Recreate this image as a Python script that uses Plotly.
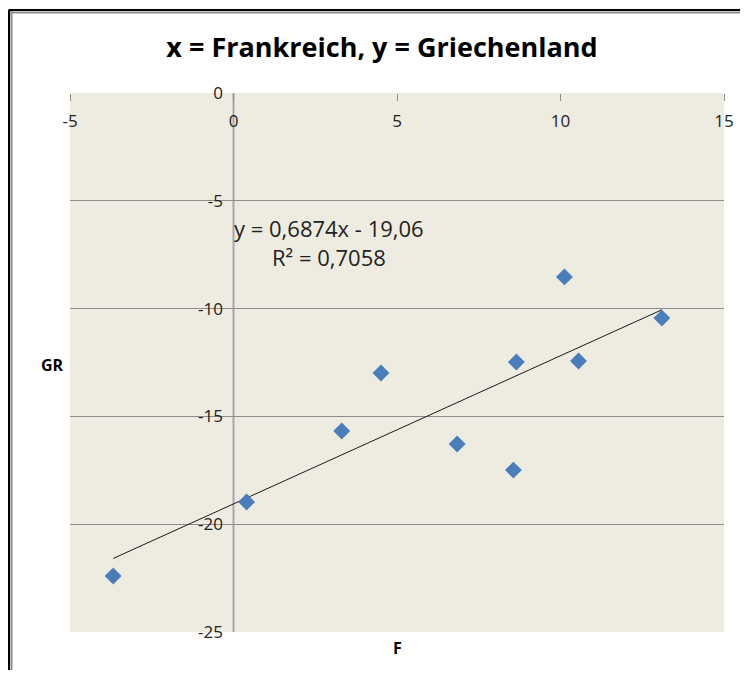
import plotly.graph_objects as go

# Frankreich (x) vs Griechenland (y)
x_frankreich = [-3.68, 0.40, 3.31, 4.51, 6.84, 8.56, 8.65, 10.12, 10.55, 13.10]
y_griechenland = [-22.40, -18.97, -15.68, -12.99, -16.28, -17.49, -12.48, -8.53, -12.43, -10.44]

# linear trendline as reported in the chart
trend_slope = 0.6874
trend_intercept = -19.06
trend_r2 = 0.7058

x_ticks = [-5, 0, 5, 10, 15]
y_ticks = [0, -5, -10, -15, -20, -25]

FONT = "Open Sans"
OFF = 8  # page body margin
W, H = 748 - 2 * OFF, 678 - 2 * OFF
# plot area in screen pixels: x 70..724, y 93..632
L, T = 70 - OFF, 93 - OFF
R, B = W - (724 - OFF), H - (632 - OFF)
PW, PH = W - L - R, H - T - B


def px_x(p):
    return (p - OFF - L) / PW


def px_y(p):
    return (H - B - (p - OFF)) / PH


trend_x = [min(x_frankreich), max(x_frankreich)]
trend_y = [trend_slope * v + trend_intercept for v in trend_x]

fig = go.Figure()

fig.add_trace(go.Scatter(
    x=trend_x, y=trend_y, mode='lines',
    line=dict(color='#1a1a1a', width=1),
    hoverinfo='skip', showlegend=False
))

fig.add_trace(go.Scatter(
    x=x_frankreich, y=y_griechenland, mode='markers',
    marker=dict(symbol='diamond', size=13, color='#4A7EBB', line=dict(width=0)),
    showlegend=False
))

eq_text = f"y = {str(trend_slope).replace('.', ',')}x - {str(abs(trend_intercept)).replace('.', ',')}"
r2_text = f"R² = {str(trend_r2).replace('.', ',')}"


def label(text, x, y, size, color='#222222'):
    return dict(text=text, x=px_x(x), y=px_y(y), xref='paper', yref='paper',
                xanchor='center', yanchor='middle', showarrow=False,
                font=dict(size=size, color=color))


fig.update_layout(
    width=W, height=H,
    margin=dict(l=L, r=R, t=T, b=B, autoexpand=False),
    paper_bgcolor='white',
    plot_bgcolor='#EEECE1',
    font=dict(family=FONT, color='#222222'),
    title=dict(text='<b>x = Frankreich, y = Griechenland</b>', x=(382 - OFF) / W, xanchor='center',
               y=1 - (48 - OFF) / H, yanchor='middle', font=dict(size=27, color='black')),
    xaxis=dict(
        range=[-5, 15], tickvals=x_ticks, ticktext=[str(v) for v in x_ticks],
        anchor='free', position=1, side='bottom', automargin=False,
        ticks='outside', ticklen=7, tickcolor='#8C8C8C', ticklabelstandoff=6,
        tickfont=dict(size=17, color='#222222'),
        showgrid=False, zeroline=False, showline=False
    ),
    yaxis=dict(
        range=[-25, 0], tickvals=y_ticks, ticktext=[str(v) for v in y_ticks],
        anchor='free', position=px_x(233), automargin=False,
        showgrid=True, gridcolor='#8C8C8C', gridwidth=1,
        showline=False, zeroline=False, ticks='', ticklabelstandoff=10,
        tickfont=dict(size=17, color='#222222')
    ),
    shapes=[
        # y axis line at x = 0
        dict(type='line', xref='x', yref='paper', x0=0, x1=0, y0=0, y1=1,
             line=dict(color='#A6A6A6', width=2), layer='below'),
        # chart frame (black + gray shadow)
        dict(type='line', xref='paper', yref='paper', x0=px_x(9), x1=px_x(9), y0=px_y(9.5), y1=px_y(700),
             line=dict(color='black', width=2)),
        dict(type='line', xref='paper', yref='paper', x0=px_x(9), x1=px_x(800), y0=px_y(10), y1=px_y(10),
             line=dict(color='black', width=2)),
        dict(type='line', xref='paper', yref='paper', x0=px_x(11.5), x1=px_x(11.5), y0=px_y(11), y1=px_y(700),
             line=dict(color='#8C8C8C', width=2)),
        dict(type='line', xref='paper', yref='paper', x0=px_x(10.5), x1=px_x(800), y0=px_y(12.5), y1=px_y(12.5),
             line=dict(color='#8C8C8C', width=2)),
    ],
    annotations=[
        label(eq_text, 329, 228, 22),
        label(r2_text, 329, 257, 22),
        label('<b>GR</b>', 52, 365, 16, 'black'),
        label('<b>F</b>', 397, 648, 16, 'black'),
    ]
)

fig.write_html("out.html")
